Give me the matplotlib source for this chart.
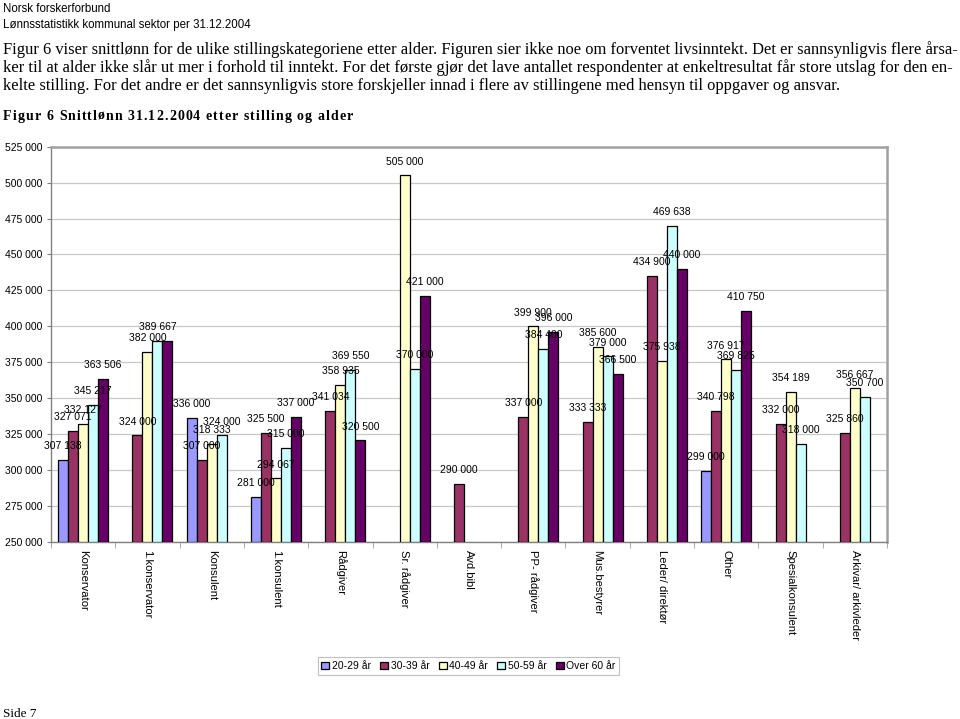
import matplotlib
matplotlib.use("Agg")
import matplotlib.pyplot as plt
from matplotlib.patches import Patch
import numpy as np

# ---------------- data ----------------
categories = ["Konservator", "1.konservator", "Konsulent", "1.konsulent", "Rådgiver",
              "Sr. rådgiver", "Avd.bibl", "PP- rådgiver", "Mus.bestyrer",
              "Leder/ direktør", "Other", "Spesialkonsulent", "Arkivar/ arkivleder"]
series_names = ["20-29 år", "30-39 år", "40-49 år", "50-59 år", "Over 60 år"]

age_20_29 = [307138, None, 336000, 281000, None, None, None, None, None, None, 299000, None, None]
age_30_39 = [327071, 324000, 307000, 325500, 341034, None, 290000, 337000, 333333, 434900, 340798, 332000, 325860]
age_40_49 = [332127, 382000, 318333, 294067, 358935, 505000, None, 399900, 385600, 375938, 376917, 354189, 356667]
age_50_59 = [345217, 389667, 324000, 315000, 369550, 370000, None, 384400, 379000, 469638, 369825, 318000, 350700]
age_over60 = [363506, 390000, None, 337000, 320500, 421000, None, 396000, 366500, 440000, 410750, None, None]
unlabelled = [(4, 1)]  # (series, category) whose data label is not shown

series = [age_20_29, age_30_39, age_40_49, age_50_59, age_over60]
colors = ["#9999FF", "#993366", "#FFFFCC", "#CCFFFF", "#660066"]

header1 = "Norsk forskerforbund"
header2 = "Lønnsstatistikk kommunal sektor per 31.12.2004"
para = [
    "Figur 6 viser snittlønn for de ulike stillingskategoriene etter alder. Figuren sier ikke noe om forventet livsinntekt. Det er sannsynligvis flere årsa-",
    "ker til at alder ikke slår ut mer i forhold til inntekt. For det første gjør det lave antallet respondenter at enkeltresultat får store utslag for den en-",
    "kelte stilling. For det andre er det sannsynligvis store forskjeller innad i flere av stillingene med hensyn til oppgaver og ansvar.",
]
fig_title = "Figur 6 Snittlønn 31.12.2004 etter stilling og alder"
footer = "Side 7"

W, H = 960, 719
fig = plt.figure(figsize=(W / 100, H / 100), dpi=100)
fig.patch.set_facecolor("white")

SANS = ["Liberation Sans", "DejaVu Sans"]
SERIF = ["Liberation Serif", "DejaVu Serif"]

ax = fig.add_axes([51 / W, 1 - 541.7 / H, (887 - 51) / W, (541.7 - 146.7) / H])

x = np.arange(len(categories))
bw = 0.1555
for si, (vals, col) in enumerate(zip(series, colors)):
    for ci, v in enumerate(vals):
        if v is None:
            continue
        xp = x[ci] + (si - 2) * bw
        ax.bar(xp, v - 250000, bottom=250000, width=bw, color=col,
               edgecolor="black", linewidth=0.9, zorder=3)
        if (si, ci) in unlabelled:
            continue
        ax.annotate(f"{v:,}".replace(",", " "), (xp, v), xytext=(0, 10),
                    textcoords="offset points", ha="center", va="center",
                    fontsize=7.5, family=SANS, color="black", zorder=5,
                    annotation_clip=False)

ax.set_xlim(-0.5, len(categories) - 0.5)
ax.set_ylim(250000, 525000)
yt = np.arange(250000, 525001, 25000)
ax.set_yticks(yt)
ax.set_yticklabels([f"{int(v):,}".replace(",", " ") for v in yt], family=SANS, fontsize=7.5)
ax.yaxis.grid(True, color="#c8c8c8", linewidth=0.9, zorder=0)
ax.set_axisbelow(True)
ax.tick_params(axis="y", length=3, color="#808080", pad=3)

ax.set_xticks(x)
ax.set_xticklabels(categories, rotation=270, family=SANS, fontsize=8.1, va="top", ha="center")
ax.set_xticks(np.arange(-0.5, len(categories) + 0.5, 1), minor=True)
ax.tick_params(axis="x", which="major", length=0, pad=6)
ax.tick_params(axis="x", which="minor", length=4, color="#a0a0a0")

for s in ["left", "bottom"]:
    ax.spines[s].set_color("#808080")
    ax.spines[s].set_linewidth(1.0)
for s in ["top", "right"]:
    ax.spines[s].set_color("#a0a0a0")
    ax.spines[s].set_linewidth(1.8)

handles = [Patch(facecolor=c, edgecolor="black", linewidth=0.9) for c in colors]
leg = fig.legend(handles, series_names, loc="center", bbox_to_anchor=(468.5 / W, 1 - 666 / H),
                 ncol=5, prop={"family": SANS, "size": 7.5},
                 handlelength=0.75, handleheight=0.75, handletextpad=0.25,
                 columnspacing=0.9, borderpad=0.35, fancybox=False, framealpha=1)
leg.get_frame().set_edgecolor("#c0c0c0")
leg.get_frame().set_linewidth(0.8)

# ---------------- page text ----------------
fig.text(3 / W, 1 - 11.7 / H, header1, family=SANS, fontsize=8.3, va="baseline")
fig.text(3 / W, 1 - 28 / H, header2, family=SANS, fontsize=8.3, va="baseline")

renderer = fig.canvas.get_renderer()


def measure(s, **kw):
    t = fig.text(0, 0, s, **kw)
    w = t.get_window_extent(renderer).width
    t.remove()
    return w


# paragraph lines: one text object per line, size fitted to the justified width
base = 11.0
sizes = []
for line in para[:2]:
    wnat = measure(line, family=SERIF, fontsize=base)
    sizes.append(base * (952.0 / wnat))
ys = [54.3, 72.5, 90.5]
line_sizes = sizes + [min(sizes)]
for line, y, fs in zip(para, ys, line_sizes):
    fig.text(3 / W, 1 - y / H, line, va="baseline", family=SERIF, fontsize=fs)

# letter-spaced bold title
tkw = dict(family=SERIF, fontsize=10, fontweight="bold")
chars = list(fig_title)
space_w = measure("a a", **tkw) - measure("aa", **tkw)
cw = [space_w if c == " " else measure(c, **tkw) for c in chars]
target = 353 - 3
extra = (target - sum(cw)) / (len(chars) - 1)
xx = 3
for c, w in zip(chars, cw):
    if c != " ":
        fig.text(xx / W, 1 - 120 / H, c, va="baseline", **tkw)
    xx += w + extra

fig.text(3 / W, 1 - 717 / H, footer, family=SERIF, fontsize=9.5, va="baseline")

fig.savefig("out.png", dpi=100, facecolor="white")
